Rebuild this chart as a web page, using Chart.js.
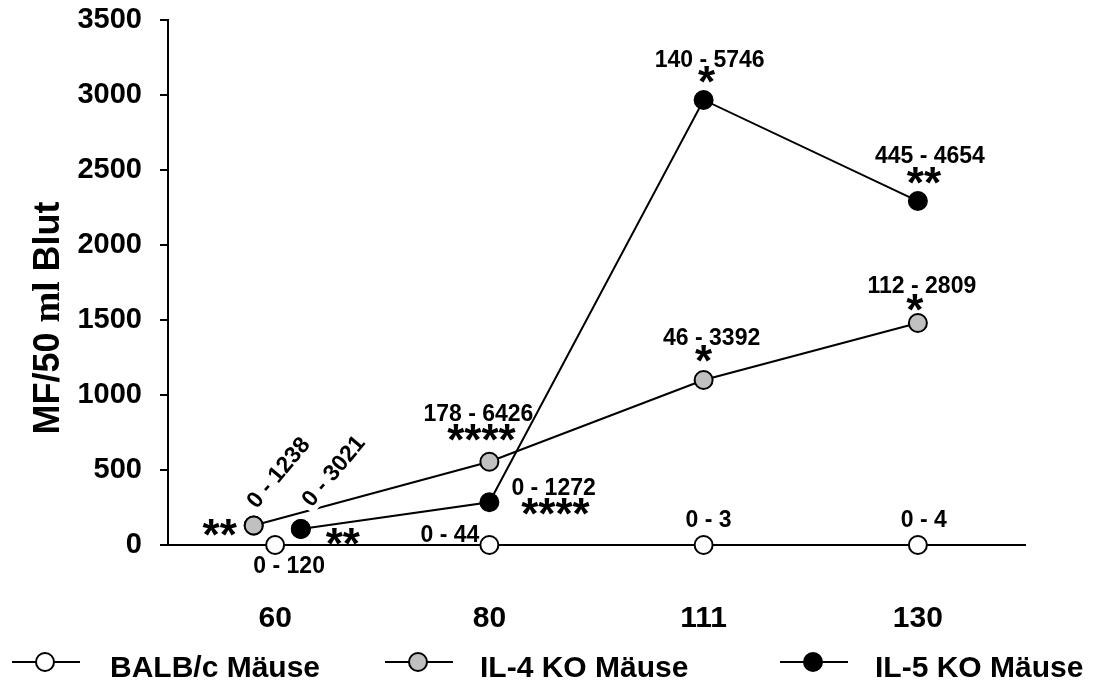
<!DOCTYPE html>
<html>
<head>
<meta charset="utf-8">
<script src="https://cdn.jsdelivr.net/npm/chart.js@4.4.1/dist/chart.umd.min.js"></script>
<style>
  html, body { margin: 0; padding: 0; background: #ffffff; }
  #wrap { width: 1101px; height: 684px; position: relative; }
</style>
</head>
<body>
<div id="wrap"><canvas id="c" width="1101" height="684"></canvas></div>
<script>
// ---- data ----
const categories = ['60', '80', '111', '130'];
const seriesNames = ['BALB/c Mäuse', 'IL-4 KO Mäuse', 'IL-5 KO Mäuse'];
const balbValues = [0, 0, 0, 0];
const il4Values = [130, 555, 1100, 1480];
const il5Values = [107, 285, 2967, 2293];
// small horizontal offsets of the points at day 60 (in category units)
const balbOffset = [0, 0, 0, 0];
const il4Offset = [-0.1, 0, 0, 0];
const il5Offset = [0.12, 0, 0, 0];
const balbRanges = ['0 - 120', '0 - 44', '0 - 3', '0 - 4'];
const il4Ranges = ['0 - 1238', '178 - 6426', '46 - 3392', '112 - 2809'];
const il5Ranges = ['0 - 3021', '0 - 1272', '140 - 5746', '445 - 4654'];
const il4Sig = ['**', '****', '*', '*'];
const il5Sig = ['**', '****', '*', '**'];
const yTicks = [0, 500, 1000, 1500, 2000, 2500, 3000, 3500];
const yTitle = ['MF/50 ', 'ml', ' Blut'];

const toPoints = (vals, offs) => vals.map((v, i) => ({ x: i + offs[i], y: v }));

const SANS = '"Liberation Sans", Arial, sans-serif';
const fills = ['#ffffff', '#c0c0c0', '#000000'];

const annotate = {
  id: 'annotate',
  afterDatasetsDraw(chart) {
    const ctx = chart.ctx;
    const pt = (ds, i) => chart.getDatasetMeta(ds).data[i];
    const labelFont = 'bold 23px ' + SANS;
    const starFont = 'bold 44px ' + SANS;
    const txt = (s, x, y, font, align, rot, box) => {
      ctx.save();
      ctx.font = font;
      ctx.fillStyle = '#000';
      ctx.textAlign = align;
      ctx.textBaseline = 'alphabetic';
      ctx.translate(x, y);
      if (rot) ctx.rotate(rot * Math.PI / 180);
      if (box) {
        const w = ctx.measureText(s).width;
        ctx.fillStyle = '#fff';
        ctx.fillRect(-4, -19, w + 8, 24);
        ctx.fillStyle = '#000';
      }
      ctx.fillText(s, 0, 0);
      ctx.restore();
    };
    // [dataset, index, text, dx, dy, align, rotation, font, whiteBox]
    const items = [
      [0, 0, balbRanges[0], 14, 28, 'center', 0, labelFont],
      [0, 1, balbRanges[1], -10, -3, 'right', 0, labelFont],
      [0, 2, balbRanges[2], 5, -18, 'center', 0, labelFont],
      [0, 3, balbRanges[3], 6, -18, 'center', 0, labelFont],
      [1, 0, il4Ranges[0], 3, -16, 'left', -50, labelFont],
      [1, 1, il4Ranges[1], -11, -41, 'center', 0, labelFont],
      [1, 2, il4Ranges[2], 8, -35, 'center', 0, labelFont],
      [1, 3, il4Ranges[3], 4, -30, 'center', 0, labelFont],
      [2, 0, il5Ranges[0], 11, -21, 'left', -50, labelFont, true],
      [2, 1, il5Ranges[1], 22, -7, 'left', 0, labelFont],
      [2, 2, il5Ranges[2], 6, -33, 'center', 0, labelFont],
      [2, 3, il5Ranges[3], 12, -38, 'center', 0, labelFont],
      [1, 0, il4Sig[0], -34, 24, 'center', 0, starFont],
      [1, 1, il4Sig[1], -8, -7, 'center', 0, starFont],
      [1, 2, il4Sig[2], 0, -4, 'center', 0, starFont],
      [1, 3, il4Sig[3], -3, 2, 'center', 0, starFont],
      [2, 0, il5Sig[0], 42, 30, 'center', 0, starFont],
      [2, 1, il5Sig[1], 66, 27, 'center', 0, starFont],
      [2, 2, il5Sig[2], 3, -3, 'center', 0, starFont],
      [2, 3, il5Sig[3], 6, -3, 'center', 0, starFont],
    ];
    items.forEach(it => {
      const p = pt(it[0], it[1]);
      txt(it[2], p.x + it[3], p.y + it[4], it[7], it[5], it[6], it[8]);
    });
    // redraw the day-60 points on top so the white box does not cover them
    [[1, 0], [2, 0]].forEach(([d, i]) => {
      const p = pt(d, i);
      ctx.save();
      ctx.beginPath();
      ctx.arc(p.x, p.y, 9, 0, Math.PI * 2);
      ctx.fillStyle = fills[d];
      ctx.fill();
      ctx.lineWidth = 2;
      ctx.strokeStyle = '#000';
      ctx.stroke();
      ctx.restore();
    });
  },
  afterDraw(chart) {
    const ctx = chart.ctx;
    // y axis title
    ctx.save();
    ctx.translate(59, 318);
    ctx.rotate(-Math.PI / 2);
    ctx.fillStyle = '#000';
    ctx.textBaseline = 'alphabetic';
    const fonts = ['bold 36px ' + SANS, 'bold 37px "Liberation Serif", serif', 'bold 36px ' + SANS];
    let total = 0;
    const widths = yTitle.map((s, i) => { ctx.font = fonts[i]; const w = ctx.measureText(s).width; total += w; return w; });
    let x = -total / 2;
    yTitle.forEach((s, i) => { ctx.font = fonts[i]; ctx.textAlign = 'left'; ctx.fillText(s, x, 0); x += widths[i]; });
    ctx.restore();
    // legend
    const legend = [
      { x1: 12, x2: 80, cx: 45, tx: 110 },
      { x1: 385, x2: 453, cx: 418, tx: 480 },
      { x1: 780, x2: 848, cx: 813, tx: 875 },
    ];
    legend.forEach((L, i) => {
      ctx.save();
      ctx.strokeStyle = '#000';
      ctx.lineWidth = 2;
      ctx.beginPath();
      ctx.moveTo(L.x1, 662);
      ctx.lineTo(L.x2, 662);
      ctx.stroke();
      ctx.beginPath();
      ctx.arc(L.cx, 662, 9, 0, Math.PI * 2);
      ctx.fillStyle = fills[i];
      ctx.fill();
      ctx.stroke();
      ctx.font = 'bold 30px ' + SANS;
      ctx.fillStyle = '#000';
      ctx.textAlign = 'left';
      ctx.textBaseline = 'alphabetic';
      ctx.fillText(seriesNames[i], L.tx, 677);
      ctx.restore();
    });
  }
};

const mkDs = (label, vals, offs, fill) => ({
  label,
  data: toPoints(vals, offs),
  showLine: true,
  borderColor: '#000',
  borderWidth: 2,
  pointRadius: 9,
  pointHoverRadius: 9,
  pointBackgroundColor: fill,
  pointBorderColor: '#000',
  pointBorderWidth: 2,
  tension: 0,
  clip: false,
  fill: false,
});

new Chart(document.getElementById('c'), {
  type: 'line',
  data: {
    datasets: [
      mkDs(seriesNames[0], balbValues, balbOffset, fills[0]),
      mkDs(seriesNames[1], il4Values, il4Offset, fills[1]),
      mkDs(seriesNames[2], il5Values, il5Offset, fills[2]),
    ]
  },
  plugins: [annotate],
  options: {
    responsive: false,
    animation: false,
    events: [],
    layout: { padding: { top: 20, right: 76, bottom: 0, left: 0 } },
    plugins: { legend: { display: false }, tooltip: { enabled: false } },
    scales: {
      x: {
        type: 'linear',
        min: -0.5,
        max: 3.5,
        afterFit(s) { s.height = 139; s.paddingLeft = 0; s.paddingRight = 0; },
        afterBuildTicks(s) { s.ticks = categories.map((c, i) => ({ value: i })); },
        ticks: {
          callback: (v) => categories[v],
          color: '#000',
          font: { family: SANS, size: 30, weight: 'bold' },
          padding: 56,
          maxRotation: 0,
          autoSkip: false,
        },
        grid: { display: false, drawTicks: false },
        border: { display: true, color: '#000', width: 2 },
      },
      y: {
        min: 0,
        max: 3500,
        afterFit(s) { s.width = 168; s.paddingTop = 0; s.paddingBottom = 0; },
        afterBuildTicks(s) { s.ticks = yTicks.map(v => ({ value: v })); },
        ticks: {
          callback: (v) => String(v),
          color: '#000',
          font: { family: SANS, size: 29, weight: 'bold' },
          padding: 18,
        },
        grid: { drawOnChartArea: false, drawTicks: true, tickLength: 8, color: '#000', lineWidth: 2 },
        border: { display: true, color: '#000', width: 2 },
      }
    }
  }
});
</script>
</body>
</html>
